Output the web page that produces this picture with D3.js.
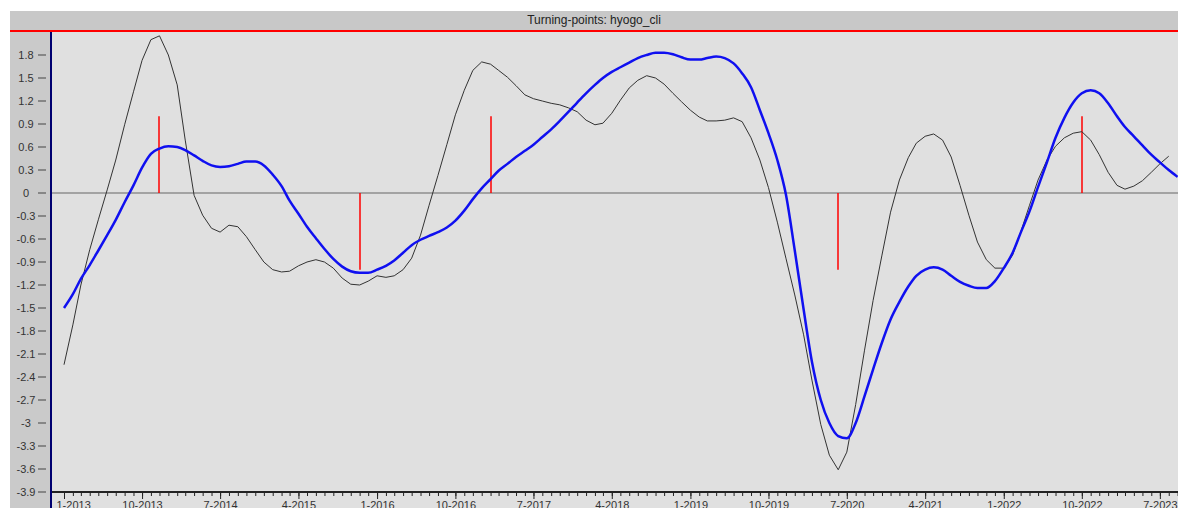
<!DOCTYPE html>
<html>
<head>
<meta charset="utf-8">
<script src="https://cdn.jsdelivr.net/npm/d3@7"></script>
<style>
  body { margin: 0; background: #fff; }
  svg { display: block; font-family: "Liberation Sans", Arial, sans-serif; }
</style>
</head>
<body>
<div id="chart"></div>
<script>
// monthly data starting 1-2013
var startMonth = "2013-01";

// black: cli
var cliValues = [
  -2.24, -1.72, -1.2, -0.74, -0.35, 0.04, 0.43, 0.89, 1.32, 1.73, 2.0, 2.05,
  1.8, 1.41, 0.69, -0.03, -0.29, -0.46, -0.51, -0.42, -0.44, -0.57, -0.74, -0.9,
  -1.0, -1.03, -1.02, -0.95, -0.9, -0.87, -0.9, -0.98, -1.11, -1.19, -1.2, -1.15,
  -1.08, -1.1, -1.08, -1.0, -0.85, -0.55, -0.16, 0.23, 0.63, 1.02, 1.34, 1.6,
  1.71, 1.68, 1.6, 1.51, 1.4, 1.28, 1.23, 1.2, 1.17, 1.15, 1.11, 1.06,
  0.95, 0.89, 0.91, 1.04, 1.21, 1.37, 1.47, 1.53, 1.5, 1.42, 1.3, 1.19,
  1.08, 0.99, 0.94, 0.94, 0.95, 0.98, 0.93, 0.72, 0.43, 0.07, -0.38, -0.85,
  -1.33, -1.85, -2.44, -3.02, -3.42, -3.61, -3.38, -2.76, -2.05, -1.4, -0.81, -0.25,
  0.17, 0.46, 0.65, 0.74, 0.77, 0.69, 0.47, 0.1, -0.29, -0.64, -0.87, -0.98,
  -0.98, -0.81, -0.51, -0.16, 0.17, 0.43, 0.61, 0.72, 0.78, 0.8, 0.69, 0.5,
  0.27, 0.1, 0.05, 0.09, 0.16, 0.27, 0.38, 0.48
];

// blue: reference series
var refValues = [
  -1.5, -1.32, -1.12, -0.94, -0.75, -0.55, -0.35, -0.12, 0.1, 0.33, 0.51, 0.58,
  0.61, 0.6, 0.56, 0.49, 0.42, 0.36, 0.34, 0.35, 0.38, 0.41, 0.41, 0.36,
  0.24, 0.09, -0.1, -0.27, -0.44, -0.59, -0.73, -0.86, -0.96, -1.02, -1.04, -1.04,
  -1.0, -0.95, -0.88, -0.78, -0.68, -0.61, -0.56, -0.51, -0.45, -0.36, -0.23, -0.08,
  0.06, 0.18, 0.29, 0.38, 0.47, 0.55, 0.63, 0.73, 0.83, 0.94, 1.06, 1.18,
  1.3, 1.41, 1.5, 1.58, 1.64, 1.7, 1.76, 1.8, 1.83, 1.83, 1.81, 1.77,
  1.74, 1.74, 1.76, 1.78, 1.76, 1.69, 1.56, 1.38, 1.08, 0.78, 0.43, -0.02,
  -0.75, -1.52, -2.2, -2.7, -3.0, -3.17, -3.2, -3.0, -2.65, -2.3, -1.95, -1.65,
  -1.42, -1.22, -1.08, -1.0, -0.97, -1.0, -1.08, -1.16, -1.21, -1.24, -1.24, -1.15,
  -0.98, -0.78, -0.52, -0.24, 0.08, 0.4, 0.72, 0.98, 1.18, 1.3, 1.34, 1.3,
  1.17, 1.0, 0.86, 0.74, 0.62, 0.5, 0.4, 0.3, 0.21
];

// turning points (month, 1 = peak, -1 = trough)
var turnDates = ["2013-12", "2015-11", "2017-02", "2020-06", "2022-10"];
var turnTypes = [1, -1, 1, -1, 1];

var yTicks = [1.8, 1.5, 1.2, 0.9, 0.6, 0.3, 0, -0.3, -0.6, -0.9, -1.2, -1.5, -1.8,
  -2.1, -2.4, -2.7, -3, -3.3, -3.6, -3.9];

var W = 1178, H = 508;
var plotLeft = 51, plotTop = 32, axisY = 492;
var parse = d3.timeParse("%Y-%m");
var fmt = d3.timeFormat("%-m-%Y");

var t0 = parse(startMonth);
var cli = cliValues.map((v, i) => ({ date: d3.timeMonth.offset(t0, i), value: v }));
var ref = refValues.map((v, i) => ({ date: d3.timeMonth.offset(t0, i), value: v }));

var x = d3.scaleTime()
  .domain([t0, d3.timeMonth.offset(t0, 128)])
  .range([64, 64 + 128 * 8.7]);

var y = d3.scaleLinear()
  .domain([-3.9, 2.1])
  .range([axisY, plotTop]);

var svg = d3.select("#chart").append("svg")
  .attr("width", W)
  .attr("height", H);

// backgrounds
svg.append("rect").attr("x", 10).attr("y", 11).attr("width", W - 10).attr("height", 20).attr("fill", "#c8c8c8");
svg.append("rect").attr("x", 10).attr("y", 31).attr("width", plotLeft - 10).attr("height", H - 31).attr("fill", "#cacaca");
svg.append("rect").attr("x", plotLeft).attr("y", 31).attr("width", W - plotLeft).attr("height", H - 31).attr("fill", "#e0e0e0");

svg.append("text")
  .attr("x", (W + 10) / 2)
  .attr("y", 24)
  .attr("text-anchor", "middle")
  .attr("font-size", 12)
  .attr("fill", "#222")
  .text("Turning-points: hyogo_cli");

svg.append("line")
  .attr("x1", 10).attr("x2", W)
  .attr("y1", 31).attr("y2", 31)
  .attr("stroke", "#ff0000").attr("stroke-width", 2);

// y axis ticks + labels
var yAxis = svg.append("g");
yAxis.selectAll("line")
  .data(yTicks)
  .enter().append("line")
  .attr("x1", 38).attr("x2", 46)
  .attr("y1", d => y(d)).attr("y2", d => y(d))
  .attr("stroke", "#444");
yAxis.selectAll("text")
  .data(yTicks)
  .enter().append("text")
  .attr("x", 26)
  .attr("y", d => y(d) + 4)
  .attr("text-anchor", "middle")
  .attr("font-size", 11)
  .attr("fill", "#333")
  .text(d => String(+d.toFixed(1)));

// x axis
var xAxis = d3.axisBottom(x)
  .ticks(d3.timeMonth.every(1))
  .tickSize(4)
  .tickFormat("");
var gx = svg.append("g")
  .attr("transform", `translate(0, ${axisY})`)
  .call(xAxis);
gx.select(".domain").remove();
gx.selectAll("line").attr("stroke", "#222");

var majors = d3.range(0, 128, 9).map(i => d3.timeMonth.offset(t0, i));
var xMajor = d3.axisBottom(x)
  .tickValues(majors)
  .tickSize(7)
  .tickPadding(2)
  .tickFormat(fmt);
var gm = svg.append("g")
  .attr("transform", `translate(0, ${axisY})`)
  .call(xMajor);
gm.select(".domain").remove();
gm.selectAll("line").attr("stroke", "#222");
gm.selectAll("text")
  .attr("font-size", 11)
  .attr("font-family", "Liberation Sans, Arial, sans-serif")
  .attr("fill", "#333");
// first label sits right of the axis
gm.select(".tick text").attr("text-anchor", "start").attr("x", -8);

svg.append("line")
  .attr("x1", plotLeft).attr("x2", W)
  .attr("y1", axisY).attr("y2", axisY)
  .attr("stroke", "#222").attr("stroke-width", 2);

// zero line
svg.append("line")
  .attr("x1", plotLeft).attr("x2", W)
  .attr("y1", y(0)).attr("y2", y(0))
  .attr("stroke", "#666");

// turning points
svg.append("g").selectAll("line")
  .data(turnDates.map((d, i) => ({ date: parse(d), type: turnTypes[i] })))
  .enter().append("line")
  .attr("x1", d => Math.round(x(d.date))).attr("x2", d => Math.round(x(d.date)))
  .attr("y1", y(0)).attr("y2", d => y(d.type))
  .attr("stroke", "#ff0000")
  .attr("stroke-width", 1.5);

svg.append("clipPath").attr("id", "plot")
  .append("rect").attr("x", plotLeft + 1).attr("y", plotTop).attr("width", W - plotLeft).attr("height", axisY - plotTop);

var line = d3.line()
  .x(d => x(d.date))
  .y(d => y(d.value));

svg.append("path")
  .datum(cli)
  .attr("clip-path", "url(#plot)")
  .attr("fill", "none")
  .attr("stroke", "#333")
  .attr("stroke-width", 1)
  .attr("d", line);

svg.append("path")
  .datum(ref)
  .attr("clip-path", "url(#plot)")
  .attr("fill", "none")
  .attr("stroke", "#1010f0")
  .attr("stroke-width", 2.5)
  .attr("d", line.curve(d3.curveMonotoneX));

// left axis line
svg.append("line")
  .attr("x1", plotLeft).attr("x2", plotLeft)
  .attr("y1", 32).attr("y2", H)
  .attr("stroke", "#000070").attr("stroke-width", 2);
</script>
</body>
</html>
